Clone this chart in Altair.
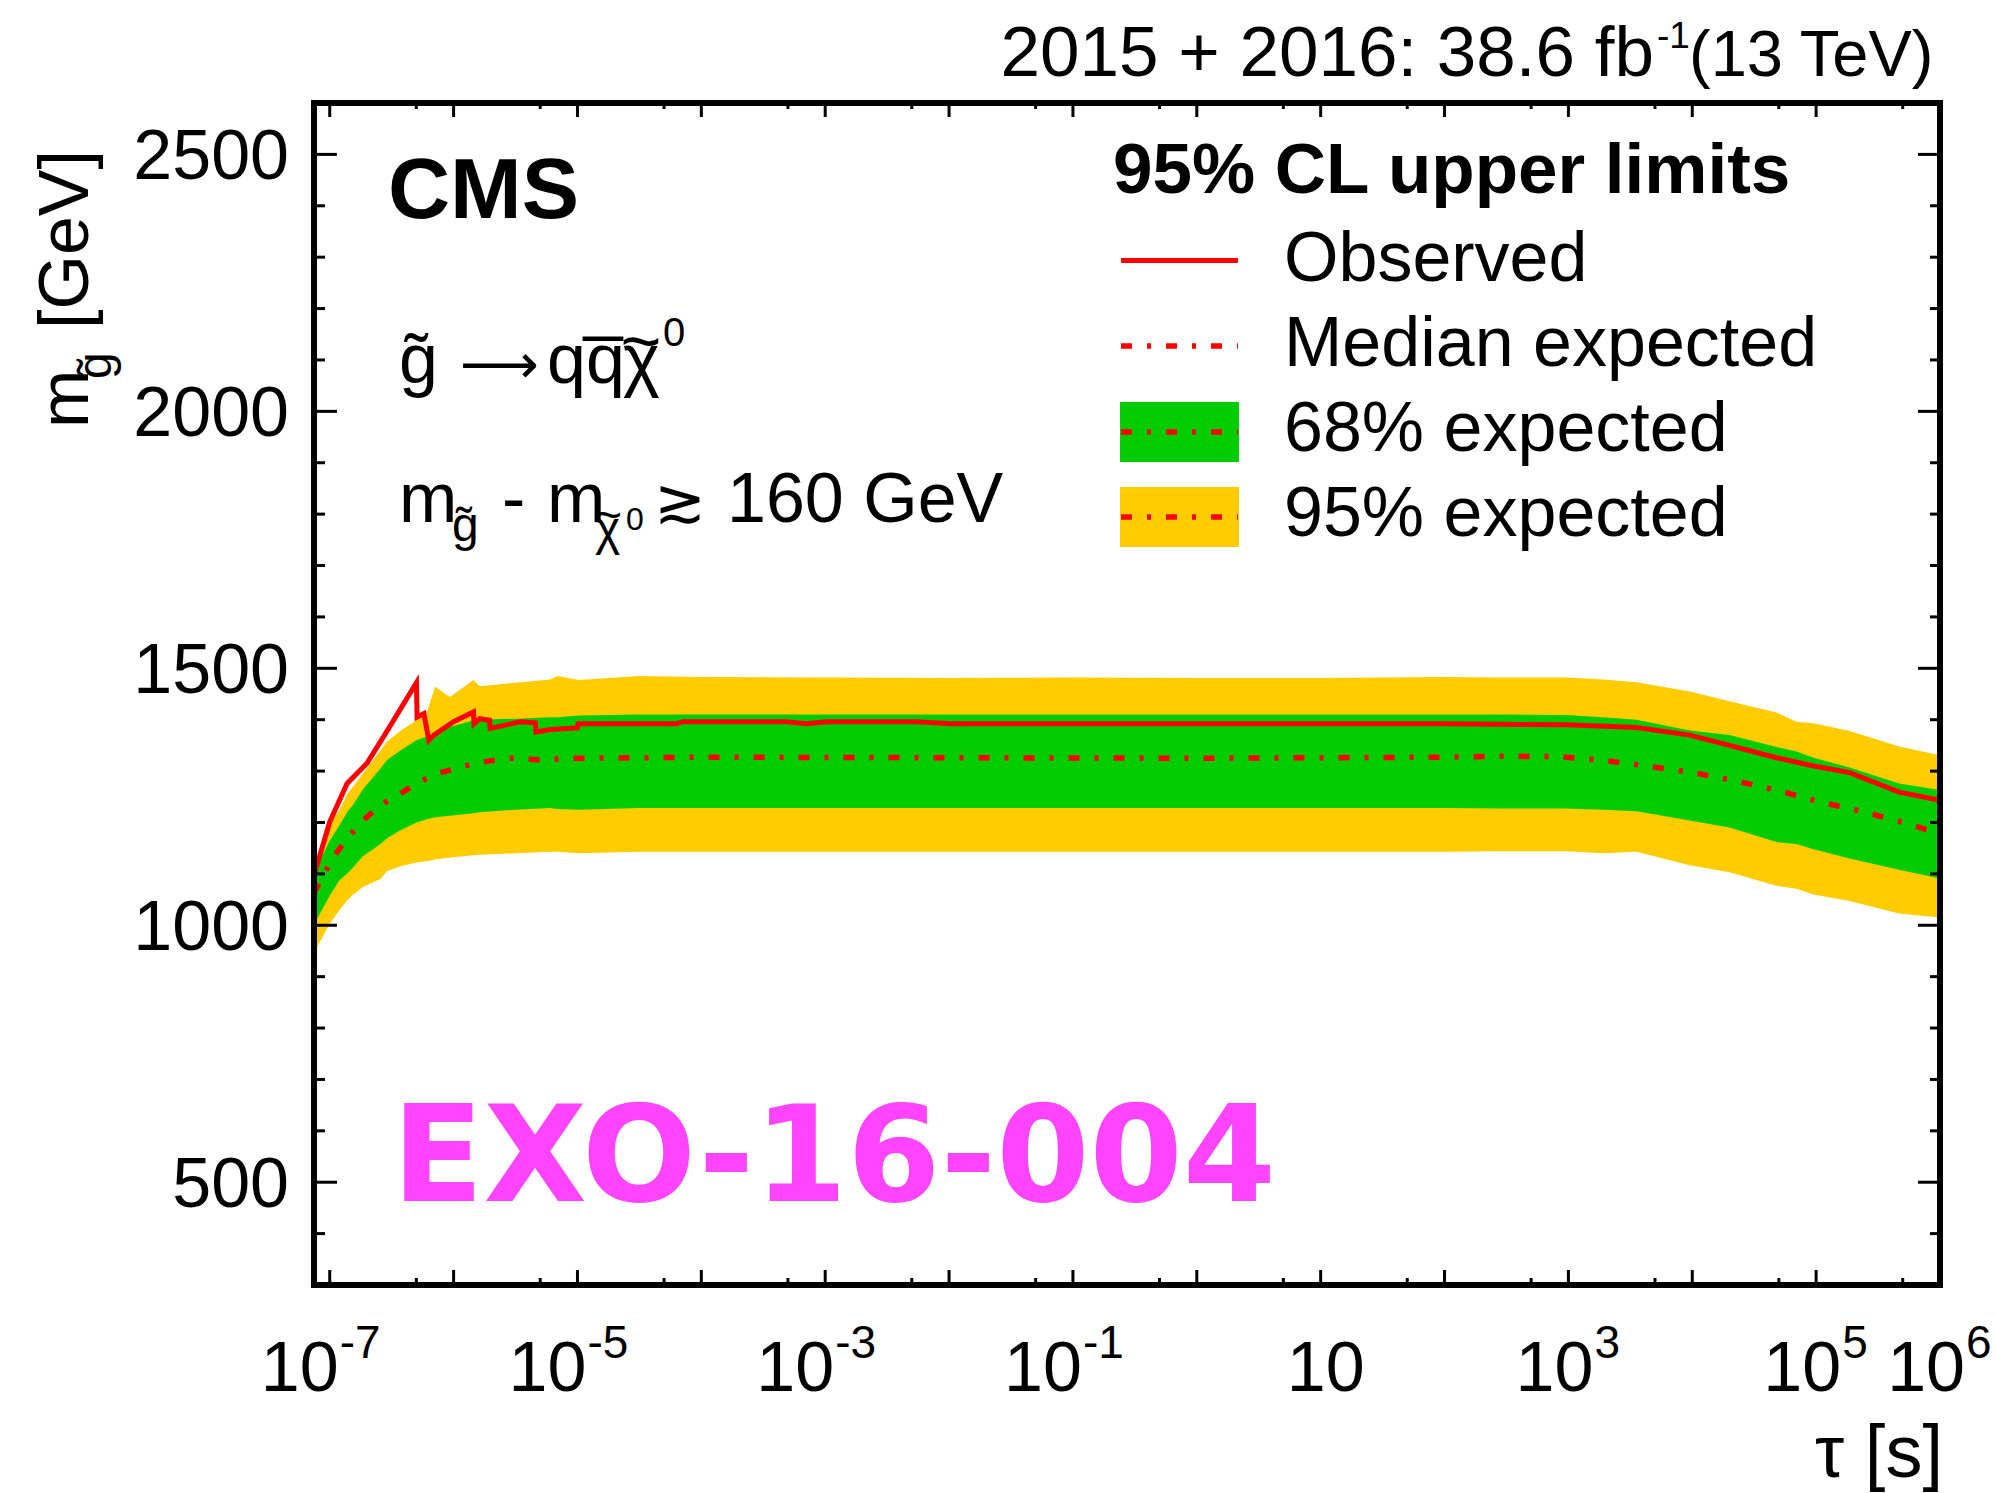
import altair as alt
import pandas as pd

# ---------------- data (log10 of lifetime tau [s], gluino mass [GeV]) ----------------
band_log_tau = [-7.13, -7.0, -6.92, -6.86, -6.81, -6.73, -6.59, -6.54, -6.43, -6.30,
                -6.21, -6.15, -6.03, -5.84, -5.79, -5.5, -5.22, -5.16, -4.99, -4.5,
                -4.0, -3.0, -2.0, -1.0, 0.0, 1.0, 2.0, 2.45, 2.98, 3.28,
                3.55, 3.98, 4.30, 4.68, 4.84, 4.98, 5.27, 5.67, 6.0]
exp95_hi = [1115, 1195, 1225, 1255, 1270, 1296, 1340, 1357, 1378, 1399,
            1418, 1464, 1444, 1477, 1465, 1472, 1478, 1485, 1477, 1485,
            1483, 1482, 1481, 1482, 1481, 1481, 1483, 1482, 1482, 1478,
            1473, 1455, 1436, 1414, 1396, 1393, 1378, 1348, 1331]
exp68_hi = [1100, 1165, 1195, 1220, 1235, 1265, 1305, 1321, 1340, 1360,
            1368, 1374, 1386, 1399, 1400, 1402, 1405, 1405, 1408, 1410,
            1410, 1410, 1410, 1410, 1410, 1410, 1410, 1410, 1409, 1405,
            1400, 1379, 1370, 1347, 1338, 1326, 1307, 1276, 1263]
exp68_lo = [1000, 1058, 1088, 1100, 1113, 1135, 1158, 1169, 1185, 1200,
            1207, 1210, 1213, 1218, 1220, 1225, 1228, 1226, 1225, 1228,
            1228, 1228, 1228, 1228, 1228, 1228, 1228, 1227, 1227, 1225,
            1222, 1204, 1190, 1162, 1158, 1148, 1130, 1108, 1091]
exp95_lo = [945, 1003, 1030, 1048, 1060, 1075, 1090, 1105, 1115, 1122,
            1125, 1128, 1132, 1136, 1137, 1140, 1143, 1143, 1140, 1143,
            1143, 1143, 1143, 1143, 1143, 1143, 1143, 1144, 1144, 1140,
            1143, 1117, 1103, 1077, 1071, 1060, 1047, 1023, 1015]

obs_log_tau = [-7.13, -7.0, -6.86, -6.70, -6.55, -6.30, -6.295, -6.24, -6.20, -6.16,
               -6.0, -5.84, -5.835, -5.79, -5.71, -5.705, -5.46, -5.34, -5.335, -5.22,
               -5.0, -4.995, -4.2, -4.15, -3.31, -3.15, -2.99, -2.26, -1.99, 0.0,
               2.0, 2.98, 3.55, 3.98, 4.30, 4.68, 4.98, 5.27, 5.67, 6.0]
observed = [1095, 1201, 1276, 1315, 1373, 1472, 1405, 1412, 1360, 1370,
            1396, 1415, 1392, 1402, 1399, 1383, 1396, 1394, 1376, 1381,
            1384, 1392, 1392, 1396, 1396, 1392, 1396, 1396, 1392, 1392,
            1392, 1390, 1385, 1370, 1350, 1326, 1310, 1297, 1259, 1243]

med_log_tau = [-7.13, -6.97, -6.85, -6.73, -6.59, -6.43, -6.30, -6.14, -5.98, -5.83,
               -5.65, -5.49, -5.33, -5.0, -4.0, -2.0, 0.0, 2.0, 2.45, 2.93,
               3.28, 3.63, 3.98, 4.33, 4.68, 5.03, 5.38, 5.73, 6.0]
median_expected = [1062, 1133, 1172, 1204, 1234, 1256, 1276, 1295, 1305, 1315,
                   1322, 1326, 1322, 1325, 1327, 1326, 1325, 1327, 1329, 1328,
                   1321, 1310, 1298, 1282, 1263, 1240, 1221, 1198, 1178]

x_major_exp = [-7, -6, -5, -4, -3, -2, -1, 0, 1, 2, 3, 4, 5, 6]
x_minor_exp = [-7, -6, -5, -4, -3, -2, -1, 0, 1, 2, 3, 4, 5]   # ticks at 5 x 10^e
x_label_exp = [-7, -5, -3, -1, 1, 3, 5, 6]
y_major = [500, 1000, 1500, 2000, 2500]
y_minor = [400, 600, 700, 800, 900, 1100, 1200, 1300, 1400, 1600, 1700, 1800, 1900,
           2100, 2200, 2300, 2400]

assert len(band_log_tau) == len(exp95_hi) == len(exp68_hi) == len(exp68_lo) == len(exp95_lo)
assert len(obs_log_tau) == len(observed)
assert len(med_log_tau) == len(median_expected)

# ---------------- style ----------------
W, H = 1626, 1182
FONT = "Liberation Sans"
RED, GREEN, YELLOW = "#ff0000", "#00cc00", "#ffcc00"
DASH = [11, 15, 4, 15]

xs = alt.Scale(type="log", domain=[10 ** -7.127, 1e6], nice=False)
ys = alt.Scale(domain=[300, 2600], nice=False, zero=False)


def X(f):
    return alt.X(f"{f}:Q", scale=xs, axis=None)


def Y(f):
    return alt.Y(f"{f}:Q", scale=ys, axis=None)


band = pd.DataFrame({"tau": [10 ** v for v in band_log_tau], "lo95": exp95_lo,
                     "hi95": exp95_hi, "lo68": exp68_lo, "hi68": exp68_hi})
obs = pd.DataFrame({"tau": [10 ** v for v in obs_log_tau], "m": observed})
med = pd.DataFrame({"tau": [10 ** v for v in med_log_tau], "m": median_expected})

layers = []
layers.append(alt.Chart(band).mark_area(color=YELLOW, orient="vertical", clip=True)
              .encode(x=X("tau"), y=Y("lo95"), y2=alt.Y2("hi95:Q")))
layers.append(alt.Chart(band).mark_area(color=GREEN, orient="vertical", clip=True)
              .encode(x=X("tau"), y=Y("lo68"), y2=alt.Y2("hi68:Q")))
layers.append(alt.Chart(med).mark_line(color=RED, strokeWidth=5.5, strokeDash=DASH,
                                       strokeCap="butt", clip=True)
              .encode(x=X("tau"), y=Y("m")))
layers.append(alt.Chart(obs).mark_line(color=RED, strokeWidth=5, clip=True)
              .encode(x=X("tau"), y=Y("m")))

# ---------------- ticks (inward, on all four sides) ----------------
xmaj = pd.DataFrame({"t": [10.0 ** e for e in x_major_exp]})
xmin = pd.DataFrame({"t": [5 * 10.0 ** e for e in x_minor_exp]})
ymaj = pd.DataFrame({"v": y_major})
ymin = pd.DataFrame({"v": y_minor})
for df, ln_b, ln_t in [(xmaj, 15, 14), (xmin, 7, 6)]:
    layers.append(alt.Chart(df).mark_rule(color="black", strokeWidth=3)
                  .encode(x=X("t"), y=alt.value(H), y2=alt.value(H - ln_b)))
    layers.append(alt.Chart(df).mark_rule(color="black", strokeWidth=3)
                  .encode(x=X("t"), y=alt.value(0), y2=alt.value(ln_t)))
for df, ln_l, ln_r in [(ymaj, 23, 22), (ymin, 11, 10)]:
    layers.append(alt.Chart(df).mark_rule(color="black", strokeWidth=3)
                  .encode(y=Y("v"), x=alt.value(0), x2=alt.value(ln_l)))
    layers.append(alt.Chart(df).mark_rule(color="black", strokeWidth=3)
                  .encode(y=Y("v"), x=alt.value(W), x2=alt.value(W - ln_r)))

# ---------------- tick labels ----------------
ylab = pd.DataFrame({"v": y_major, "s": [str(v) for v in y_major]})
layers.append(alt.Chart(ylab).mark_text(font=FONT, fontSize=70, align="right",
                                        baseline="alphabetic", dy=25, color="black")
              .encode(x=alt.value(-25), y=Y("v"), text="s:N"))

xlab = pd.DataFrame({"t": [10.0 ** e for e in x_label_exp],
                     "e": x_label_exp,
                     "sup": [str(e) for e in x_label_exp]})
neg = xlab[xlab["e"] < 0]
pos = xlab[xlab["e"] > 1]
plain = xlab[xlab["e"] == 1]
for df, dxb in [(neg, 9), (pos, 25)]:
    layers.append(alt.Chart(df).mark_text(font=FONT, fontSize=70, align="right",
                                          baseline="alphabetic", dx=dxb, color="black")
                  .encode(x=X("t"), y=alt.value(H + 106), text=alt.value("10")))
    layers.append(alt.Chart(df).mark_text(font=FONT, fontSize=46, align="left",
                                          baseline="alphabetic", dx=dxb + 1, color="black")
                  .encode(x=X("t"), y=alt.value(H + 73), text="sup:N"))
layers.append(alt.Chart(plain).mark_text(font=FONT, fontSize=70, align="center",
                                         baseline="alphabetic", dx=5, color="black")
              .encode(x=X("t"), y=alt.value(H + 106), text=alt.value("10")))

# ---------------- annotations ----------------
one = pd.DataFrame({"d": [0]})


def txt(s, x, y, size=70, bold=False, align="left", font=FONT, color="black", angle=0):
    kw = dict(font=font, fontSize=size, align=align, baseline="alphabetic", color=color)
    if bold:
        kw["fontWeight"] = "bold"
    if angle:
        kw["angle"] = angle
    return alt.Chart(one).mark_text(**kw).encode(x=alt.value(x), y=alt.value(y),
                                                 text=alt.value(s))


# axis titles
layers.append(txt("m", -226, 325, angle=270))
layers.append(txt("g\u0303", -203, 276, size=48, angle=270))
layers.append(txt("[GeV]", -226, 226, angle=270))
layers.append(txt("\u03c4 [s]", W + 3, 1374, size=74, align="right"))

# top right luminosity label
layers.append(txt("2015 + 2016: 38.6 fb", 1340, -27, size=71, align="right"))
layers.append(txt("-1", 1343, -55, size=37))
layers.append(txt("(13 TeV)", 1375, -27, size=65))

# CMS and process text
layers.append(txt("CMS", 74, 115, size=86, bold=True))
layers.append(txt("g\u0303", 85, 280, size=70))
layers.append(txt("\u27f6", 146, 280, size=55, font="DejaVu Sans"))
layers.append(txt("qq\u0305", 233, 280, size=70))
layers.append(txt("\u03c7", 309, 280, size=70))
layers.append(txt("~", 327, 262, size=70, align="center"))
layers.append(txt("0", 349, 243, size=40))

layers.append(txt("m", 85, 419, size=70))
layers.append(txt("g\u0303", 138, 438, size=48))
layers.append(txt("-", 188, 419, size=70))
layers.append(txt("m", 233, 419, size=70))
layers.append(txt("\u03c7", 281, 442, size=48))
layers.append(txt("~", 294, 428, size=48, align="center"))
layers.append(txt("0", 312, 427, size=32))
layers.append(txt("\u2273", 340, 419, size=62, font="DejaVu Sans"))
layers.append(txt("160 GeV", 413, 419, size=70))

# legend
layers.append(txt("95% CL upper limits", 799, 90, size=71, bold=True))
layers.append(alt.Chart(one).mark_rect(color=GREEN)
              .encode(x=alt.value(806), x2=alt.value(925), y=alt.value(299), y2=alt.value(359)))
layers.append(alt.Chart(one).mark_rect(color=YELLOW)
              .encode(x=alt.value(806), x2=alt.value(925), y=alt.value(384), y2=alt.value(444)))
layers.append(alt.Chart(one).mark_rule(color=RED, strokeWidth=5)
              .encode(x=alt.value(807), x2=alt.value(924), y=alt.value(157.5)))
for yy in [243, 329, 414]:
    layers.append(alt.Chart(one).mark_rule(color=RED, strokeWidth=5.5, strokeDash=DASH,
                                           strokeCap="butt")
                  .encode(x=alt.value(807), x2=alt.value(924), y=alt.value(yy)))
for s, yy in [("Observed", 178), ("Median expected", 263), ("68% expected", 348),
              ("95% expected", 433)]:
    layers.append(txt(s, 970, yy, size=70))

# watermark
layers.append(txt("EXO-16-004", 78, 1098, size=134, bold=True, font="DejaVu Sans",
                  color="#ff44ff"))

# frame
layers.append(alt.Chart(one).mark_rect(filled=False, stroke="black", strokeWidth=6)
              .encode(x=alt.value(0), x2=alt.value(W), y=alt.value(0), y2=alt.value(H)))

chart = (alt.layer(*layers)
         .properties(width=W, height=H,
                     autosize=alt.AutoSizeParams(type="none"),
                     padding={"left": 314, "top": 103, "right": 57, "bottom": 208},
                     background="white")
         .configure_view(strokeWidth=0))

chart.save("out.html", embed_options={"renderer": "svg", "actions": False})
